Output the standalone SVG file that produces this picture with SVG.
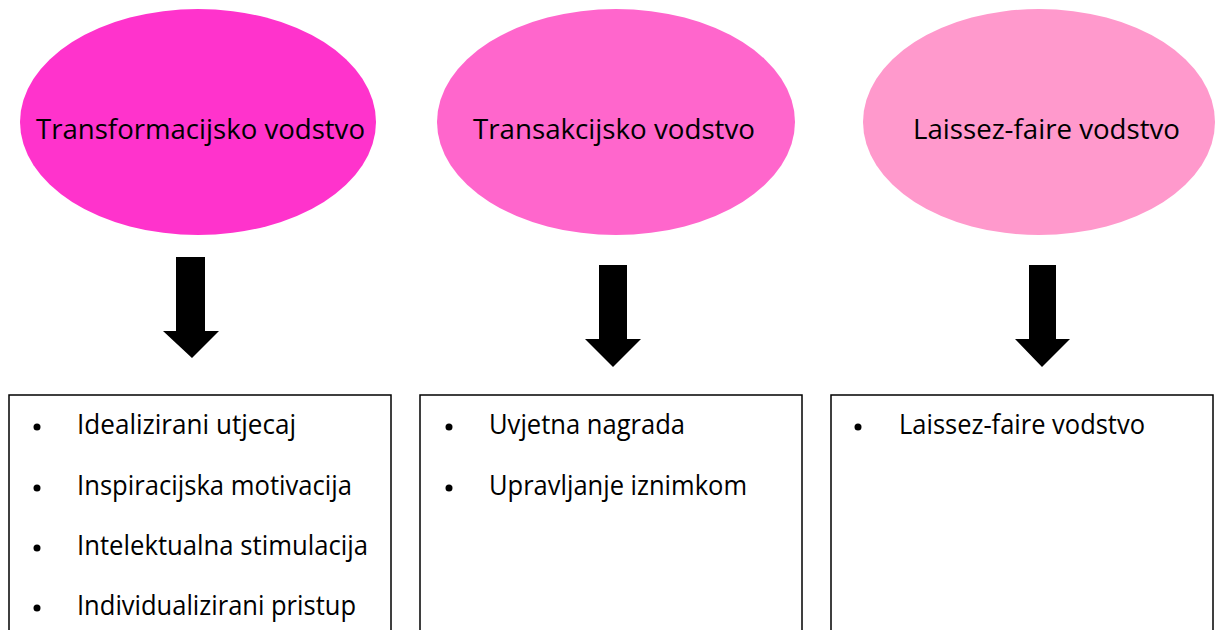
<svg xmlns="http://www.w3.org/2000/svg" width="1215" height="630" viewBox="0 0 1215 630">
<style>
.t{font-family:"Open Sans","Noto Sans","Liberation Sans",sans-serif;font-size:27px;fill:#000}
.box{fill:#fff;stroke:#000;stroke-width:1.5}
.arr{fill:#000}
</style>
<rect width="1215" height="630" fill="#fff"/>
<g id="node-transformacijsko">
<ellipse cx="198" cy="122" rx="178" ry="113" fill="#FF33CC"/>
<text class="t" x="36" y="139" textLength="329" lengthAdjust="spacingAndGlyphs">Transformacijsko vodstvo</text>
</g>
<g id="node-transakcijsko">
<ellipse cx="616" cy="122" rx="179" ry="113" fill="#FF66CC"/>
<text class="t" x="473" y="139" textLength="282" lengthAdjust="spacingAndGlyphs">Transakcijsko vodstvo</text>
</g>
<g id="node-laissez">
<ellipse cx="1039" cy="122" rx="176" ry="113" fill="#FF99CC"/>
<text class="t" x="913" y="139" textLength="267" lengthAdjust="spacingAndGlyphs">Laissez-faire vodstvo</text>
</g>
<g id="connectors">
<polygon class="arr" points="176,257 205,257 205,331 219,331 192,358 163,331 176,331"/>
<polygon class="arr" points="599,265 627,265 627,339 641,339 613,367 585,339 599,339"/>
<polygon class="arr" points="1029,265 1056,265 1056,339 1070,339 1042,367 1015,339 1029,339"/>
</g>
<g id="node-list1">
<rect class="box" x="9" y="395" width="382" height="250"/>
<circle cx="37" cy="427" r="3.5"/>
<text class="t" x="77" y="434" textLength="219" lengthAdjust="spacingAndGlyphs">Idealizirani utjecaj</text>
<circle cx="37" cy="488" r="3.5"/>
<text class="t" x="77" y="495" textLength="275" lengthAdjust="spacingAndGlyphs">Inspiracijska motivacija</text>
<circle cx="37" cy="548" r="3.5"/>
<text class="t" x="77" y="555" textLength="291" lengthAdjust="spacingAndGlyphs">Intelektualna stimulacija</text>
<circle cx="37" cy="608" r="3.5"/>
<text class="t" x="77" y="615" textLength="279" lengthAdjust="spacingAndGlyphs">Individualizirani pristup</text>
</g>
<g id="node-list2">
<rect class="box" x="420" y="395" width="382" height="250"/>
<circle cx="449" cy="427" r="3.5"/>
<text class="t" x="489" y="434" textLength="196" lengthAdjust="spacingAndGlyphs">Uvjetna nagrada</text>
<circle cx="449" cy="488" r="3.5"/>
<text class="t" x="489" y="495" textLength="258" lengthAdjust="spacingAndGlyphs">Upravljanje iznimkom</text>
</g>
<g id="node-list3">
<rect class="box" x="831" y="395" width="382" height="250"/>
<circle cx="858" cy="427" r="3.5"/>
<text class="t" x="899" y="434" textLength="246" lengthAdjust="spacingAndGlyphs">Laissez-faire vodstvo</text>
</g>
</svg>
